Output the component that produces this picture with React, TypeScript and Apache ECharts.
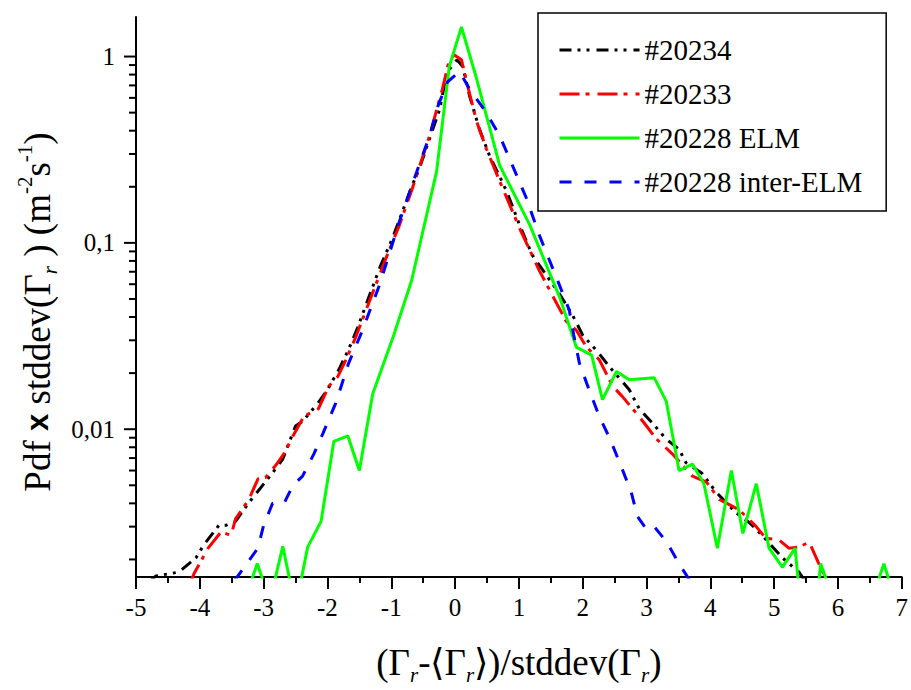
import { useEffect, useRef } from 'react';
import * as echarts from 'echarts';

// Axis ranges and ticks
const xMin = -5;
const xMax = 7;
const yMin = 0.00161;
const yMax = 1.63;
const yMajorTicks = [0.01, 0.1, 1];
const yMinorTicks = [
  0.002, 0.003, 0.004, 0.005, 0.006, 0.007, 0.008, 0.009,
  0.02, 0.03, 0.04, 0.05, 0.06, 0.07, 0.08, 0.09,
  0.2, 0.3, 0.4, 0.5, 0.6, 0.7, 0.8, 0.9,
];

const seriesNames = ['#20234', '#20233', '#20228 ELM', '#20228 inter-ELM'];

// #20234 (black, dash-dot-dot)
const shot20234: [number, number][] = [
  [-4.8, 0.0015], [-4.69, 0.00163], [-4.33, 0.00171], [-4.06, 0.00204], [-3.94, 0.00239],
  [-3.7, 0.00305], [-3.59, 0.00305], [-3.44, 0.0032], [-3.23, 0.00404], [-3.12, 0.00451],
  [-2.86, 0.00583], [-2.7, 0.00692], [-2.5, 0.0104], [-2.39, 0.011], [-2.15, 0.0138],
  [-2.0, 0.0163], [-1.82, 0.0209], [-1.67, 0.0267], [-1.53, 0.0349], [-1.18, 0.0736],
  [-0.98, 0.106], [-0.67, 0.204], [-0.56, 0.251], [-0.4, 0.362], [-0.24, 0.522],
  [-0.13, 0.82], [0.03, 0.96], [0.12, 0.885], [0.23, 0.61], [0.38, 0.409],
  [0.54, 0.294], [0.81, 0.189], [1.01, 0.125], [1.21, 0.086], [1.64, 0.053],
  [1.84, 0.041], [2.0, 0.032], [2.26, 0.0254], [2.42, 0.0216], [2.73, 0.0163],
  [2.89, 0.0128], [3.09, 0.0108], [3.31, 0.00885], [3.51, 0.0078], [3.62, 0.0066],
  [3.87, 0.0058], [4.09, 0.0046], [4.4, 0.00357], [4.61, 0.00316], [4.81, 0.0027],
  [5.13, 0.00204], [5.39, 0.00171], [5.5, 0.0015],
];

// #20233 (red, dash-dot)
const shot20233: [number, number][] = [
  [-4.15, 0.0015], [-4.09, 0.00168], [-3.87, 0.0023], [-3.67, 0.0028], [-3.51, 0.0027],
  [-3.44, 0.0033], [-3.23, 0.0042], [-3.09, 0.0054], [-2.97, 0.0055], [-2.81, 0.0064],
  [-2.68, 0.0074], [-2.54, 0.0092], [-2.37, 0.0117], [-2.14, 0.0129], [-1.98, 0.017],
  [-1.84, 0.0191], [-1.71, 0.0236], [-1.56, 0.031], [-1.1, 0.08], [-0.87, 0.125],
  [-0.67, 0.196], [-0.4, 0.375], [-0.2, 0.667], [-0.09, 0.96], [-0.01, 1.02],
  [0.1, 0.96], [0.2, 0.69], [0.34, 0.446], [0.49, 0.32], [0.7, 0.214],
  [1.01, 0.12], [1.32, 0.071], [1.74, 0.038], [1.9, 0.034], [2.06, 0.0276],
  [2.26, 0.0236], [2.47, 0.017], [2.62, 0.015], [2.84, 0.0122], [3.0, 0.0104],
  [3.15, 0.0089], [3.4, 0.0074], [3.72, 0.0056], [3.94, 0.0052], [4.14, 0.0042],
  [4.45, 0.0037], [4.72, 0.003], [4.87, 0.0026], [5.08, 0.00254], [5.23, 0.0023],
  [5.39, 0.00233], [5.55, 0.00248], [5.7, 0.0019], [5.85, 0.0015],
];

// #20228 ELM (green, solid)
const shot20228Elm: [number, number][] = [
  [-3.3, 0.0012], [-3.1, 0.0019], [-2.9, 0.0012], [-2.7, 0.00235], [-2.5, 0.0011],
  [-2.31, 0.00233], [-2.1, 0.0032], [-1.9, 0.0086], [-1.68, 0.0092], [-1.5, 0.006],
  [-1.29, 0.0155], [-0.96, 0.032], [-0.68, 0.063], [-0.29, 0.241], [-0.09, 0.885],
  [0.1, 1.44], [0.34, 0.755], [0.7, 0.26], [1.17, 0.125], [1.64, 0.051],
  [1.9, 0.0276], [2.14, 0.025], [2.31, 0.0144], [2.53, 0.0204], [2.73, 0.0184],
  [3.12, 0.0189], [3.31, 0.0141], [3.51, 0.006], [3.72, 0.0065], [3.9, 0.0051],
  [4.11, 0.0023], [4.33, 0.006], [4.51, 0.00276], [4.72, 0.0051], [4.92, 0.0023],
  [5.13, 0.00182], [5.33, 0.0023], [5.53, 0.0004], [5.73, 0.0019], [5.93, 0.0012],
  [6.53, 0.0012], [6.72, 0.0019], [6.9, 0.0012],
];

// #20228 inter-ELM (blue, dashed)
const shot20228Inter: [number, number][] = [
  [-3.45, 0.00155], [-3.09, 0.0023], [-3.0, 0.00305], [-2.86, 0.004], [-2.68, 0.004],
  [-2.54, 0.005], [-2.39, 0.0056], [-2.21, 0.0074], [-2.07, 0.0095], [-1.87, 0.0138],
  [-1.67, 0.0225], [-1.45, 0.034], [-1.18, 0.06], [-0.87, 0.131], [-0.6, 0.241],
  [-0.4, 0.375], [-0.27, 0.54], [-0.12, 0.73], [0.07, 0.83], [0.23, 0.667],
  [0.49, 0.5], [0.7, 0.375], [0.9, 0.26], [1.12, 0.173], [1.32, 0.11],
  [1.59, 0.065], [1.79, 0.0435], [1.86, 0.032], [1.95, 0.0225], [2.1, 0.0163],
  [2.26, 0.0117], [2.42, 0.009], [2.62, 0.0061], [2.76, 0.0046], [2.86, 0.0034],
  [3.0, 0.0029], [3.12, 0.003], [3.31, 0.0025], [3.51, 0.0019], [3.7, 0.0015],
];

const serif = 'Liberation Serif';

function yLabel(v: number): string {
  const e = Math.log10(v);
  const r = Math.round(e);
  if (Math.abs(e - r) > 1e-6) return '';
  const s = r >= 0 ? String(Math.pow(10, r)) : '0,' + '0'.repeat(-r - 1) + '1';
  return '{t|' + s + '}';
}

function xLabel(v: number): string {
  const s = v < 0 ? '-' + String(Math.abs(v)) : String(v);
  return '{t|' + s + '}';
}

export default function App() {
  const ref = useRef<HTMLDivElement>(null);
  useEffect(() => {
    if (!ref.current) return;
    const chart = echarts.init(ref.current, undefined, { renderer: 'svg' });

    const tickData = [
      ...yMajorTicks.map((v) => [xMin, v, 12]),
      ...yMinorTicks.map((v) => [xMin, v, 7]),
    ];

    const labelRich = { t: { fontSize: 25, fontFamily: serif, color: '#000' } };

    const richBase = {
      a: { fontSize: 37, fontFamily: serif, color: '#000', lineHeight: 46 },
      x: { fontSize: 31, fontFamily: 'Liberation Sans', fontWeight: 'bold', color: '#000', lineHeight: 46 },
      sub: { fontSize: 21, fontFamily: serif, fontStyle: 'italic', color: '#000', verticalAlign: 'bottom', lineHeight: 22 },
      sup: { fontSize: 21, fontFamily: serif, color: '#000', verticalAlign: 'top', lineHeight: 22 },
    };

    const mk = (name: string, data: [number, number][], color: string, type: any) => ({
      name,
      type: 'line',
      data,
      symbol: 'none',
      showSymbol: false,
      clip: true,
      itemStyle: { color },
      lineStyle: { color, width: 3, type },
    });

    chart.setOption({
      animation: false,
      backgroundColor: '#fff',
      textStyle: { fontFamily: serif, color: '#000' },
      grid: { left: 136, right: 8, top: 17, bottom: 108, containLabel: false },
      legend: {
        data: seriesNames,
        orient: 'vertical',
        left: 538,
        top: 13,
        padding: [22, 24, 14, 20],
        borderColor: '#000',
        borderWidth: 1.5,
        itemWidth: 80,
        itemHeight: 30,
        itemGap: 14,
        itemStyle: { opacity: 0 },
        lineStyle: { width: 3 },
        textStyle: { fontSize: 29, fontFamily: serif, color: '#000', lineHeight: 30 },
      },
      xAxis: {
        type: 'value',
        min: xMin,
        max: xMax,
        interval: 1,
        axisLine: { onZero: false, lineStyle: { color: '#000', width: 2 } },
        axisTick: { length: 12, lineStyle: { color: '#000', width: 2 } },
        minorTick: { show: true, splitNumber: 2, length: 6, lineStyle: { color: '#000', width: 2 } },
        splitLine: { show: false },
        axisLabel: { fontSize: 25, fontFamily: serif, color: '#000', margin: 18, formatter: xLabel, rich: labelRich },
        name: '{a|(Γ}{sub|r}{a|-⟨Γ}{sub|r}{a|⟩)/stddev(Γ}{sub|r}{a|)}',
        nameLocation: 'middle',
        nameGap: 62,
        nameTextStyle: { fontFamily: serif, rich: richBase },
      },
      yAxis: {
        type: 'log',
        logBase: 10,
        min: yMin,
        max: yMax,
        axisLine: { show: true, onZero: false, lineStyle: { color: '#000', width: 2 } },
        axisTick: { show: false },
        splitLine: { show: false },
        axisLabel: {
          fontSize: 25,
          fontFamily: serif,
          color: '#000',
          margin: 21,
          formatter: yLabel,
          rich: labelRich,
        },
        name: '{a|Pdf }{x|x}{a| stddev(Γ}{sub|r}{a| ) (m}{sup|-2}{a|s}{sup|-1}{a|)}',
        nameLocation: 'middle',
        nameGap: 55,
        nameTextStyle: { fontFamily: serif, rich: richBase, padding: [0, 30, 0, 0] },
      },
      series: [
        mk(seriesNames[0], shot20234, '#000000', [12, 6, 3, 6, 3, 7]),
        mk(seriesNames[1], shot20233, '#ff0000', [20, 6, 4, 8]),
        mk(seriesNames[2], shot20228Elm, '#00ff00', 'solid'),
        mk(seriesNames[3], shot20228Inter, '#0000ff', [12, 13]),
        {
          name: 'yticks',
          type: 'custom',
          silent: true,
          clip: false,
          data: tickData,
          renderItem: (_params: any, api: any) => {
            const p = api.coord([api.value(0), api.value(1)]);
            const len = api.value(2);
            return {
              type: 'line',
              shape: { x1: p[0] - len, y1: p[1], x2: p[0], y2: p[1] },
              style: { stroke: '#000', lineWidth: 2 },
            };
          },
        },
      ],
    });
    return () => chart.dispose();
  }, []);
  return (
    <div
      ref={ref}
      style={{ position: 'fixed', left: 0, top: 0, width: 911, height: 690, background: '#fff' }}
    />
  );
}
